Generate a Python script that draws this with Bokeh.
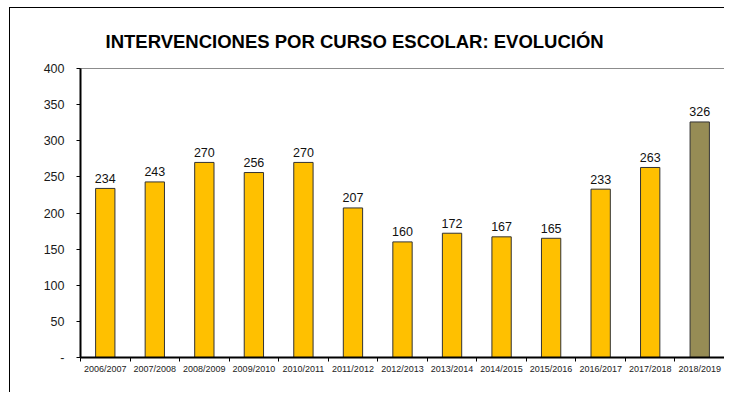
from bokeh.plotting import figure
from bokeh.models import (Range1d, FixedTicker, LinearAxis, ColumnDataSource)
from bokeh.core.properties import value
from bokeh.embed import file_html
from bokeh.resources import INLINE

cursos = ["2006/2007", "2007/2008", "2008/2009", "2009/2010", "2010/2011", "2011/2012",
          "2012/2013", "2013/2014", "2014/2015", "2015/2016", "2016/2017", "2017/2018", "2018/2019"]
intervenciones = [234, 243, 270, 256, 270, 207, 160, 172, 167, 165, 233, 263, 326]
colores = ["#FFC000"] * 12 + ["#968C55"]
y_ticks = [0, 50, 100, 150, 200, 250, 300, 350, 400]

FONT = "Liberation Sans"

n = len(cursos)
centros = [i + 0.5 for i in range(n)]          # category slot centres
limites = list(range(n + 1))                    # category slot boundaries

src = ColumnDataSource(dict(x=centros, y=intervenciones, c=colores,
                            t=[str(v) for v in intervenciones]))

p = figure(width=715, height=385, output_backend="svg", toolbar_location=None,
           x_range=Range1d(0, n), y_range=Range1d(0, 400),
           x_axis_location=None, min_border_left=70, min_border_right=1,
           min_border_top=60, min_border_bottom=36,
           title="INTERVENCIONES POR CURSO ESCOLAR: EVOLUCIÓN")
p.styles = {"margin-left": "9px", "margin-top": "7px",
            "border-top": "1px solid #000", "border-left": "1px solid #000"}

p.title.text_font = FONT
p.title.text_font_size = "18.5px"
p.title.text_font_style = "bold"
p.title.text_color = "#000000"
p.title.align = "left"
p.title.offset = 25
p.title.standoff = 33

p.xgrid.visible = False
p.ygrid.visible = False
p.outline_line_color = "#8c8c8c"
p.outline_line_width = 1
p.background_fill_color = "white"
p.border_fill_color = "white"

# y axis
ya = p.yaxis[0]
ya.ticker = FixedTicker(ticks=y_ticks)
ya.major_label_overrides = {0: "-"}
ya.axis_line_width = 2
ya.axis_line_color = "#000000"
ya.major_tick_in = 0
ya.major_tick_out = 4
ya.major_tick_line_color = "#000000"
ya.minor_tick_line_color = None
ya.major_label_text_font = FONT
ya.major_label_text_font_size = "12.5px"
ya.major_label_text_color = "#1a1a1a"
ya.major_label_standoff = 12

# x axis: labels at slot centres, tick marks at slot boundaries
xa = LinearAxis(ticker=FixedTicker(ticks=centros, minor_ticks=limites),
                major_label_overrides={c: name for c, name in zip(centros, cursos)})
xa.axis_line_width = 2
xa.axis_line_color = "#000000"
xa.major_tick_line_color = None
xa.major_tick_in = 0
xa.major_tick_out = 0
xa.minor_tick_line_color = "#000000"
xa.minor_tick_in = 0
xa.minor_tick_out = 4
xa.major_label_text_font = FONT
xa.major_label_text_font_size = "9px"
xa.major_label_text_color = "#222222"
xa.major_label_standoff = 2
p.add_layout(xa, "below")

p.vbar(x="x", top="y", width=0.39, bottom=0, source=src, fill_color="c",
       line_color="#333333", line_width=1)

p.text(x="x", y="y", text="t", source=src, text_align="center", text_baseline="alphabetic",
       y_offset=-10, text_font=value(FONT), text_font_size="12.5px", text_color="#111111")

open("out.html", "w").write(file_html(p, INLINE))
